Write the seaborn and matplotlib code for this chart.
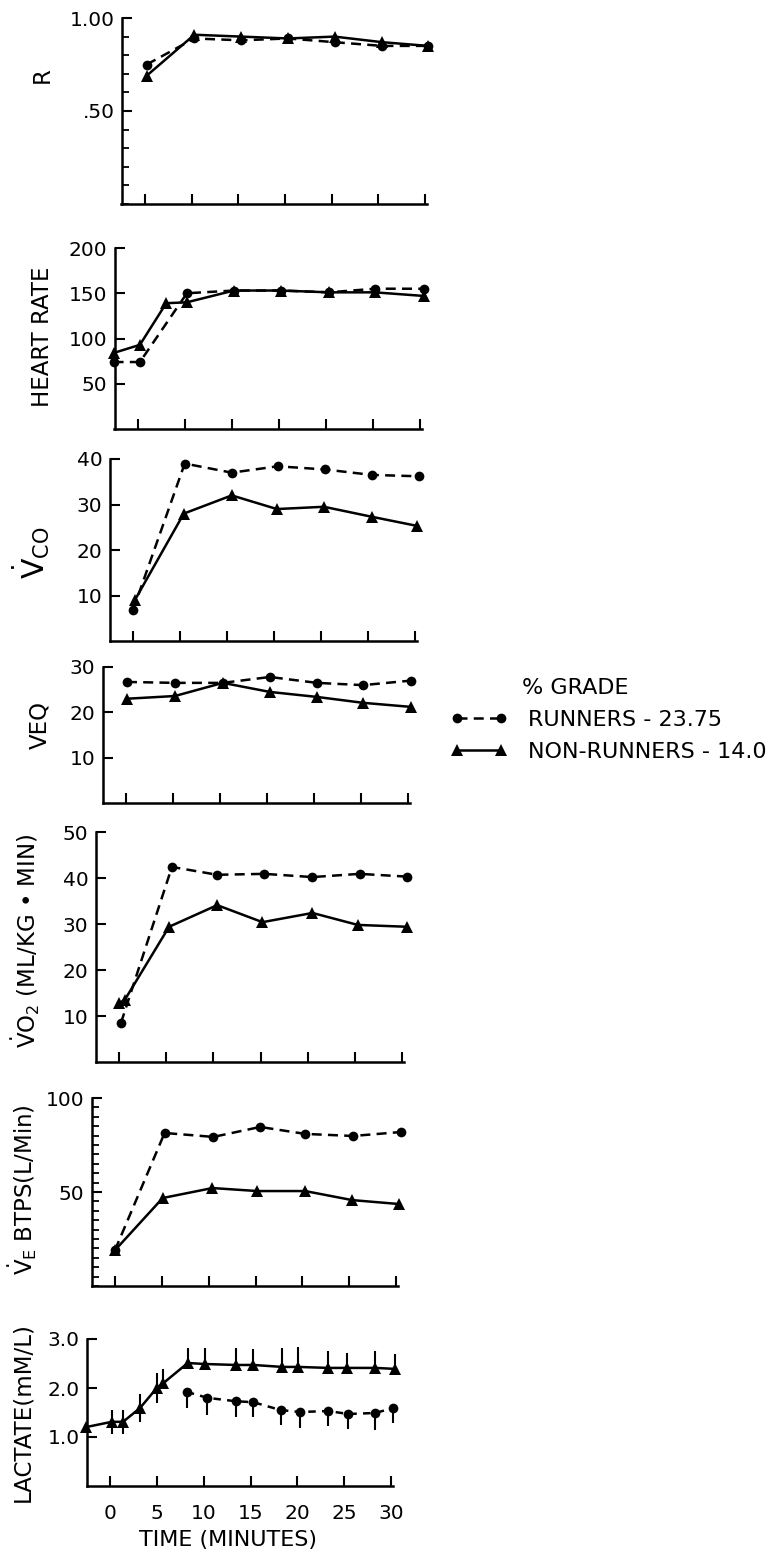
import numpy as np
import pandas as pd
import matplotlib
matplotlib.use("Agg")
import matplotlib.pyplot as plt
import seaborn as sns
from matplotlib.ticker import MultipleLocator

# ---------------- data ----------------
time_ticks = [0, 5, 10, 15, 20, 25, 30]
time_tick_labels = ["0", "5", "10", "15", "20", "25", "30"]

# R
r_t_run = [0.2, 5.3, 10.3, 15.3, 20.3, 25.4, 30.3]
r_run = [0.75, 0.89, 0.88, 0.89, 0.87, 0.85, 0.85]
r_t_non = [0.2, 5.3, 10.3, 15.3, 20.3, 25.4, 30.3]
r_non = [0.69, 0.91, 0.90, 0.89, 0.90, 0.87, 0.85]

# Heart rate
hr_t_run = [-2.6, 0.2, 5.2, 10.2, 15.2, 20.3, 25.2, 30.4]
hr_run = [74, 74, 150, 153, 153, 151, 155, 155]
hr_t_non = [-2.6, 0.2, 3.0, 5.2, 10.2, 15.2, 20.3, 25.2, 30.4]
hr_non = [84, 93, 139, 140, 153, 153, 151, 151, 147]

# VCO
vco_t_run = [0.0, 5.5, 10.5, 15.4, 20.4, 25.4, 30.4]
vco_run = [6.8, 39.0, 37.0, 38.4, 37.7, 36.5, 36.2]
vco_t_non = [0.2, 5.4, 10.5, 15.3, 20.3, 25.4, 30.2]
vco_non = [9.0, 28.0, 32.0, 29.0, 29.5, 27.3, 25.3]

# VEQ
veq_t = [0.1, 5.2, 10.3, 15.3, 20.3, 25.2, 30.3]
veq_run = [26.7, 26.5, 26.5, 27.8, 26.5, 26.0, 27.0]
veq_non = [23.0, 23.6, 26.5, 24.5, 23.4, 22.1, 21.2]

# VO2
vo2_t_run = [0.2, 5.6, 10.4, 15.4, 20.5, 25.5, 30.5]
vo2_run = [8.5, 42.4, 40.7, 40.9, 40.2, 40.9, 40.3]
vo2_t_non = [0.0, 0.6, 5.3, 10.4, 15.2, 20.5, 25.3, 30.5]
vo2_non = [12.8, 13.5, 29.4, 34.1, 30.4, 32.4, 29.8, 29.4]

# VE BTPS
ve_t_run = [0.0, 5.3, 10.5, 15.5, 20.3, 25.4, 30.5]
ve_run = [19.0, 81.4, 79.3, 84.6, 80.9, 79.8, 81.9]
ve_t_non = [0.0, 5.1, 10.4, 15.2, 20.3, 25.3, 30.3]
ve_non = [19.0, 46.8, 52.1, 50.5, 50.5, 45.7, 43.6]

# Lactate
lac_t_non = [-2.6, 0.2, 1.4, 3.2, 5.0, 5.7, 8.3, 10.1, 13.4, 15.3, 18.4, 20.1, 23.3, 25.3, 28.3, 30.4]
lac_non = [1.20, 1.31, 1.31, 1.59, 2.00, 2.10, 2.51, 2.49, 2.47, 2.47, 2.43, 2.43, 2.41, 2.41, 2.41, 2.39]
lac_non_err_up = [0.0, 0.25, 0.25, 0.28, 0.30, 0.28, 0.30, 0.32, 0.35, 0.32, 0.38, 0.40, 0.35, 0.30, 0.35, 0.30]
lac_non_err_dn = [0.0, 0.25, 0.25, 0.28, 0.30, 0.0, 0.0, 0.0, 0.0, 0.0, 0.0, 0.0, 0.0, 0.0, 0.0, 0.0]
lac_t_run = [8.2, 10.4, 13.4, 15.3, 18.2, 20.3, 23.3, 25.4, 28.3, 30.2]
lac_run = [1.92, 1.80, 1.73, 1.71, 1.55, 1.51, 1.53, 1.47, 1.49, 1.59]
lac_run_err_dn = [0.32, 0.35, 0.32, 0.30, 0.30, 0.32, 0.30, 0.30, 0.35, 0.30]

run_label = "RUNNERS - 23.75"
non_label = "NON-RUNNERS - 14.0"
legend_title = "% GRADE"

# ---------------- style ----------------
sns.set_theme(style="ticks")
plt.rcParams["font.family"] = ["DejaVu Sans"]
plt.rcParams["mathtext.fontset"] = "dejavusans"
plt.rcParams["axes.linewidth"] = 1.8
FS = 14.5     # tick labels
LFS = 16.5    # axis labels
GFS = 16      # legend / x label

W, H = 776, 1557
fig = plt.figure(figsize=(W / 100, H / 100), dpi=100)
fig.patch.set_facecolor("white")


def add_ax(left, right, top, bottom):
    return fig.add_axes([left / W, 1 - bottom / H, (right - left) / W, (bottom - top) / H])


LW = 1.8
MS_C = 7
MS_T = 8


def draw(ax, t_run, y_run, t_non, y_non):
    sns.lineplot(x=t_run, y=y_run, ax=ax, color="black", linewidth=LW,
                 marker="o", markersize=MS_C, markeredgewidth=0,
                 linestyle=(0, (4, 2.5)), label=run_label, legend=False, clip_on=False)
    sns.lineplot(x=t_non, y=y_non, ax=ax, color="black", linewidth=LW,
                 marker="^", markersize=MS_T, markeredgewidth=0,
                 label=non_label, legend=False, clip_on=False)


def style(ax, ylim, yticks, yticklabels, show_x=False):
    ax.set_xlim(-2.5, 30.2)
    ax.set_ylim(*ylim)
    ax.set_facecolor("white")
    for s in ("top", "right"):
        ax.spines[s].set_visible(False)
    for s in ("left", "bottom"):
        ax.spines[s].set_color("black")
    ax.set_xticks(time_ticks)
    if show_x:
        ax.set_xticklabels(time_tick_labels, fontsize=FS)
    else:
        ax.set_xticklabels([])
    ax.set_yticks(yticks)
    ax.set_yticklabels(yticklabels, fontsize=FS)
    ax.tick_params(axis="both", which="major", direction="in", length=7, width=1.5,
                   color="black", labelcolor="black", pad=5)
    ax.tick_params(axis="x", which="major", pad=13)
    ax.tick_params(axis="both", which="minor", direction="in", length=5, width=1.3, color="black")
    ax.grid(False)


def ylab(ax, text, x, y, size=LFS):
    # x is the centre of the rotated label; anchor is its right edge
    ax.set_ylabel(text, fontsize=size, color="black")
    ax.yaxis.set_label_coords((x + 0.55 * size) / W, 1 - y / H, transform=fig.transFigure)


# R
ax = add_ax(121.5, 427, 18, 204)
draw(ax, r_t_run, r_run, r_t_non, r_non)
style(ax, (0, 1.0), [0.5, 1.0], [".50", "1.00"])
ax.yaxis.set_minor_locator(MultipleLocator(0.1))
ylab(ax, "R", 45, 75)

# Heart rate
ax = add_ax(114.5, 422, 248, 429)
draw(ax, hr_t_run, hr_run, hr_t_non, hr_non)
style(ax, (0, 200), [50, 100, 150, 200], ["50", "100", "150", "200"])
ylab(ax, "HEART RATE", 45, 337)

# VCO
ax = add_ax(109.5, 417, 459, 641)
draw(ax, vco_t_run, vco_run, vco_t_non, vco_non)
style(ax, (0, 40), [10, 20, 30, 40], ["10", "20", "30", "40"])
ylab(ax, r"$\dot{\rm V}_{\rm CO}$", 40, 553, size=LFS + 5)

# VEQ
ax = add_ax(102.5, 410, 667, 803)
draw(ax, veq_t, veq_run, veq_t, veq_non)
style(ax, (0, 30), [10, 20, 30], ["10", "20", "30"])
ylab(ax, "VEQ", 42, 725)

# VO2
ax = add_ax(95.5, 404, 832, 1062)
draw(ax, vo2_t_run, vo2_run, vo2_t_non, vo2_non)
style(ax, (0, 50), [10, 20, 30, 40, 50], ["10", "20", "30", "40", "50"])
ylab(ax, r"$\dot{\rm V}{\rm O}_2$ (ML/KG • MIN)", 33, 941)
leg_handles = ax.get_lines()[:2]

# VE
ax = add_ax(91.5, 398, 1098, 1286)
draw(ax, ve_t_run, ve_run, ve_t_non, ve_non)
style(ax, (0, 100), [50, 100], ["50", "100"])
ax.yaxis.set_minor_locator(MultipleLocator(5))
ylab(ax, r"$\dot{\rm V}_{\rm E}$ BTPS(L/Min)", 30, 1190)

# Lactate
ax = add_ax(86.5, 393, 1339, 1486)
ax.errorbar(lac_t_non, lac_non, yerr=[lac_non_err_dn, lac_non_err_up], fmt="none",
            ecolor="black", elinewidth=1.5, capsize=0, clip_on=False)
ax.errorbar(lac_t_run, lac_run, yerr=[lac_run_err_dn, [0] * len(lac_run)], fmt="none",
            ecolor="black", elinewidth=1.5, capsize=0, clip_on=False)
sns.lineplot(x=lac_t_run, y=lac_run, ax=ax, color="black", linewidth=LW,
             marker="o", markersize=MS_C, markeredgewidth=0,
             linestyle=(0, (3, 2.5)), legend=False, clip_on=False)
sns.lineplot(x=lac_t_non, y=lac_non, ax=ax, color="black", linewidth=LW,
             marker="^", markersize=MS_T, markeredgewidth=0, legend=False, clip_on=False)
style(ax, (0, 3.0), [1.0, 2.0, 3.0], ["1.0", "2.0", "3.0"], show_x=True)
ylab(ax, "LACTATE(mM/L)", 25, 1412)
ax.set_xlabel("TIME (MINUTES)", fontsize=GFS, color="black")
ax.xaxis.set_label_coords(228 / W, 1 - 1530 / H, transform=fig.transFigure)

# legend
fig.text(522 / W, 1 - 688 / H, legend_title, fontsize=GFS, color="black",
         ha="left", va="center")
fig.legend(handles=leg_handles, labels=[run_label, non_label],
           loc="upper left", bbox_to_anchor=(450 / W, 1 - 710 / H),
           frameon=False, fontsize=GFS, numpoints=2, handlelength=2.6,
           handletextpad=0.9, labelspacing=0.55, borderpad=0, borderaxespad=0,
           labelcolor="black")

fig.savefig("out.png", dpi=100, facecolor="white")
